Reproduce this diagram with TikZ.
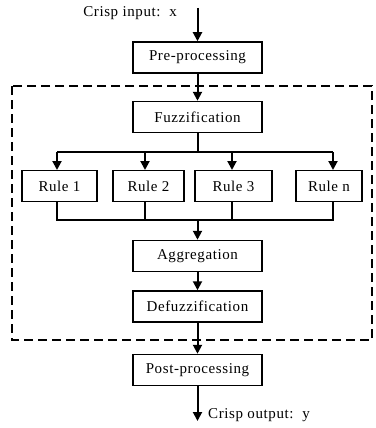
\documentclass[tikz,border=0pt]{standalone}
\usepackage{fontspec}
\setmainfont{Liberation Serif}[LetterSpace=4]
\usetikzlibrary{arrows.meta}
\begin{document}
\begin{tikzpicture}[x=1pt,y=-1pt,
  box/.style={draw,line width=1.5pt,minimum height=31pt,inner sep=0pt,font=\fontsize{15}{17}\selectfont},
  wide/.style={box,minimum width=129pt},
  rulebox/.style={box},
  conn/.style={line width=2pt},
  arr/.style={conn,-{Triangle[length=9pt,width=9pt]}},
  lbl/.style={font=\fontsize{15}{17}\selectfont,inner sep=0pt}]
\useasboundingbox (0,0) rectangle (375,428);
\draw[line width=2.4pt,dash pattern=on 9pt off 5pt] (12,86) rectangle (372,340);
\node[wide] (pre) at (197.5,57.5) {Pre-processing};
\node[wide] (fuz) at (197.5,117) {Fuzzification};
\node[rulebox,minimum width=75pt] (r1) at (59.5,186) {Rule 1};
\node[rulebox,minimum width=71pt] (r2) at (148.5,186) {Rule 2};
\node[rulebox,minimum width=77pt] (r3) at (233.5,186) {Rule 3};
\node[rulebox,minimum width=66pt] (rn) at (329,186) {Rule n};
\node[wide] (agg) at (197.5,256) {Aggregation};
\node[wide] (def) at (197.5,306.5) {Defuzzification};
\node[wide] (post) at (197.5,370) {Post-processing};
\node[lbl,anchor=east] (inlbl) at (177,13) {Crisp input:\ \ x};
\node[lbl,anchor=west] (outlbl) at (208,415) {Crisp output:\ \ y};
\coordinate (in) at (197.5,8);
\coordinate (out) at (197.5,421);
\coordinate (split) at (197.5,152);
\coordinate (join) at (197.5,220);
\draw[arr] (in) -- (pre.north);
\draw[arr] (pre.south) -- (fuz.north);
\draw[conn] (fuz.south) -- (split);
\draw[conn] (57,152) -- (333,152);
\draw[arr] (57,152) -- (57,170);
\draw[arr] (145,152) -- (145,170);
\draw[arr] (232,152) -- (232,170);
\draw[arr] (333,152) -- (333,170);
\draw[conn] (57,202) -- (57,220) -- (333,220) -- (333,202);
\draw[conn] (145,202) -- (145,220);
\draw[conn] (232,202) -- (232,220);
\draw[arr] (join) -- (agg.north);
\draw[arr] (agg.south) -- (def.north);
\draw[arr] (def.south) -- (post.north);
\draw[arr] (post.south) -- (out);
\end{tikzpicture}
\end{document}
